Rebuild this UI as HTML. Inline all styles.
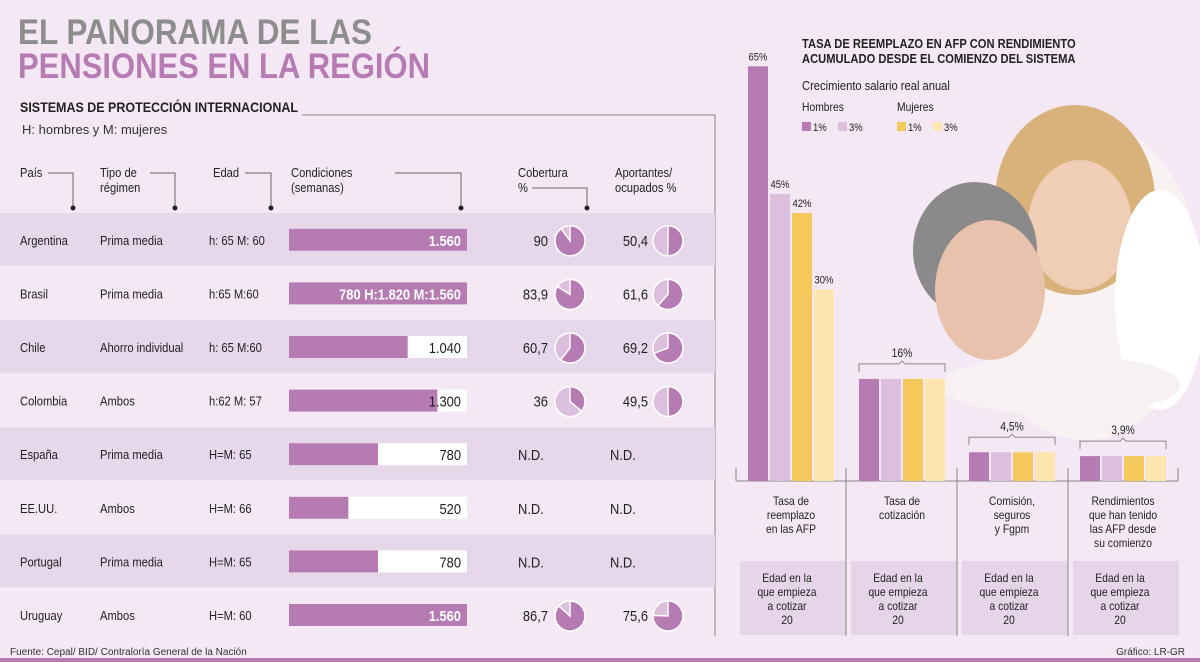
<!DOCTYPE html>
<html><head><meta charset="utf-8">
<style>
html,body{margin:0;padding:0;background:#f3e8f4;}
svg{display:block;font-family:"Liberation Sans Narrow","Liberation Sans",sans-serif;}
</style></head>
<body>
<svg id="s" width="1200" height="662" viewBox="0 0 1200 662" xmlns="http://www.w3.org/2000/svg">
<rect x="0" y="0" width="1200" height="662" fill="#f3e8f4"/>
<text x="18" y="44" font-size="35" font-weight="bold" fill="#8d8d8d" textLength="354" lengthAdjust="spacingAndGlyphs">EL PANORAMA DE LAS</text>
<text x="18" y="78" font-size="35" font-weight="bold" fill="#b77bb4" textLength="412" lengthAdjust="spacingAndGlyphs">PENSIONES EN LA REGIÓN</text>
<text x="20" y="112" font-size="14" font-weight="bold" fill="#222" textLength="278" lengthAdjust="spacingAndGlyphs">SISTEMAS DE PROTECCIÓN INTERNACIONAL</text>
<polyline points="302,115 715,115 715,636" fill="none" stroke="#888" stroke-width="1"/>
<text x="22" y="134" font-size="13" fill="#333">H: hombres y M: mujeres</text>
<g id="hdr" font-size="13" fill="#222"></g>
<g id="rows"></g>
<g id="photo">
<ellipse cx="1085" cy="280" rx="115" ry="160" fill="#f8f3f2"/>
<ellipse cx="1075" cy="200" rx="80" ry="95" fill="#d8b27a"/>
<ellipse cx="1080" cy="225" rx="52" ry="65" fill="#f0cdb5"/>
<ellipse cx="975" cy="250" rx="62" ry="68" fill="#8a8a8a"/>
<ellipse cx="990" cy="290" rx="55" ry="70" fill="#e9c2ad"/>
<ellipse cx="1160" cy="300" rx="45" ry="110" fill="#ffffff"/>
<ellipse cx="1060" cy="385" rx="120" ry="30" fill="#f7f1f4"/>
</g>
<g id="chart"></g>
<text x="10" y="655" font-size="10" fill="#333">Fuente: Cepal/ BID/ Contraloría General de la Nación</text>
<text x="1185" y="655" font-size="10" fill="#333" text-anchor="end">Gráfico: LR-GR</text>
<rect x="0" y="658" width="1200" height="4" fill="#b77bb4"/>
</svg>
<script>
const countries=["Argentina","Brasil","Chile","Colombia","España","EE.UU.","Portugal","Uruguay"];
const regimes=["Prima media","Prima media","Ahorro individual","Ambos","Prima media","Ambos","Prima media","Ambos"];
const ages=["h: 65 M: 60","h:65 M:60","h: 65 M:60","h:62 M: 57","H=M: 65","H=M: 66","H=M: 65","H=M: 60"];
const weeks=[1560,1560,1040,1300,780,520,780,1560];
const weekLabels=["1.560","780 H:1.820 M:1.560","1.040","1.300","780","520","780","1.560"];
const coverage=[90,83.9,60.7,36,null,null,null,86.7];
const coverageLabels=["90","83,9","60,7","36","N.D.","N.D.","N.D.","86,7"];
const contrib=[50.4,61.6,69.2,49.5,null,null,null,75.6];
const contribLabels=["50,4","61,6","69,2","49,5","N.D.","N.D.","N.D.","75,6"];

const groups=["Tasa de|reemplazo|en las AFP","Tasa de|cotización","Comisión,|seguros|y Fgpm","Rendimientos|que han tenido|las AFP desde|su comienzo"];
const seriesNames=["Hombres 1%","Hombres 3%","Mujeres 1%","Mujeres 3%"];
const hombres1=[65,16,4.5,3.9];
const hombres3=[45,16,4.5,3.9];
const mujeres1=[42,16,4.5,3.9];
const mujeres3=[30,16,4.5,3.9];
const groupLabels=["","16%","4,5%","3,9%"];

const NS="http://www.w3.org/2000/svg";
function mk(tag,attrs,parent,txt){const e=document.createElementNS(NS,tag);for(const k in attrs)e.setAttribute(k,attrs[k]);if(txt!=null)e.textContent=txt;parent.appendChild(e);return e;}
const hdr=document.getElementById('hdr');
const rows=document.getElementById('rows');
const chart=document.getElementById('chart');

const heads=[["País",20,177],["Tipo de|régimen",100,177],["Edad",213,177],["Condiciones|(semanas)",291,177],["Cobertura|%",518,177],["Aportantes/|ocupados %",615,177]];
heads.forEach(h=>{
  const t=mk('text',{x:h[1],y:h[2],'font-size':13,fill:'#222'},hdr);
  
  
  h[0].split('|').forEach((p,i)=>mk('tspan',{x:h[1],dy:i?15:0},t,p));
});
const leaders=[[48,173,73],[150,173,175],[245,173,271],[395,173,461],[532,188,587]];
leaders.forEach(l=>{
  const pl=mk('polyline',{points:`${l[0]},${l[1]} ${l[2]},${l[1]} ${l[2]},207`,fill:'none',stroke:'#666','stroke-width':1},hdr);
  
  
  const c=mk('circle',{cx:l[2],cy:208,r:2.5,fill:'#222'},hdr);
  
  
});

const rowTop=213,rowH=53.6,barX=289,barW=178,barH=22;
function xW(v){return v/1560*barW;}
function pie(cx,cy,r,pct,g){
  const bg=mk('circle',{cx,cy,r,fill:'#dcbedd',stroke:'#fff','stroke-width':1.5},g);
  
  
  const a=pct/100*2*Math.PI;
  const x1=cx+r*Math.sin(a),y1=cy-r*Math.cos(a);
  const large=pct>50?1:0;
  const p=mk('path',{d:`M${cx},${cy} L${cx},${cy-r} A${r},${r} 0 ${large} 1 ${x1},${y1} Z`,fill:'#b77bb4',stroke:'#fff','stroke-width':1.5},g);
  
  
}
countries.forEach((c,i)=>{
  const y=rowTop+i*rowH, cy=y+rowH/2;
  const g=mk('g',{},rows);
  
  
  if(i%2===0){const b=mk('rect',{x:0,y:y,width:715,height:rowH-1,fill:'#e7d7ea'},g);
    }
  const t1=mk('text',{x:20,y:cy+5,'font-size':13,fill:'#222'},g,c);
  
  const t2=mk('text',{x:100,y:cy+5,'font-size':13,fill:'#222'},g,regimes[i]);
  
  const t3=mk('text',{x:209,y:cy+5,'font-size':13,fill:'#222'},g,ages[i]);
  
  const tr=mk('rect',{x:barX,y:cy-barH/2,width:barW,height:barH,fill:'#fff'},g);
  
  const w=i===1?barW:xW(weeks[i]);
  const br=mk('rect',{x:barX,y:cy-barH/2,width:w,height:barH,fill:'#b77bb4'},g);
  
  const full=w>barW-5;
  const bl=mk('text',{x:barX+barW-6,y:cy+6,'font-size':15,'font-weight':full?'bold':'normal','text-anchor':'end',fill:full?'#fff':'#222'},g,weekLabels[i]);
  
  const cv=mk('text',{x:coverage[i]==null?518:548,y:cy+6,'font-size':15,'text-anchor':coverage[i]==null?'start':'end',fill:'#222'},g,coverageLabels[i]);
  
  const ap=mk('text',{x:contrib[i]==null?610:648,y:cy+6,'font-size':15,'text-anchor':contrib[i]==null?'start':'end',fill:'#222'},g,contribLabels[i]);
  
  if(coverage[i]!=null)pie(570,cy+1,15,coverage[i],g);
  if(contrib[i]!=null)pie(668,cy+1,15,contrib[i],g);
});

const baseY=481,pxPer=6.38;
function yS(v){return baseY-v*pxPer;}
const colors=["#b77bb4","#dcbedd","#f4c85a","#fde5ae"];
const series=[hombres1,hombres3,mujeres1,mujeres3];
const gx=[748,859,969,1080],bw=20,bg=2;
const ct=mk('text',{x:802,y:48,'font-size':13,'font-weight':'bold',fill:'#222'},chart);

mk('tspan',{x:802,dy:0},ct,"TASA DE REEMPLAZO EN AFP CON RENDIMIENTO");
mk('tspan',{x:802,dy:15},ct,"ACUMULADO DESDE EL COMIENZO DEL SISTEMA");
const cs=mk('text',{x:802,y:90,'font-size':13,fill:'#222'},chart,"Crecimiento salario real anual");

const lh=mk('text',{x:802,y:111,'font-size':12,fill:'#222'},chart,"Hombres");

const lm=mk('text',{x:897,y:111,'font-size':12,fill:'#222'},chart,"Mujeres");

[[802,"1%"],[838,"3%"],[897,"1%"],[933,"3%"]].forEach((l,k)=>{
  const r=mk('rect',{x:l[0],y:122,width:9,height:9,fill:colors[k]},chart);
  
  const t=mk('text',{x:l[0]+11,y:131,'font-size':11,fill:'#222'},chart,l[1]);
  
});
gx.forEach((x,gi)=>{
  const bx=mk('rect',{x:740+gi*111,y:561,width:106,height:74,fill:'#e6d5e9'},chart);
  
  const t=mk('text',{x:787+gi*111,y:582,'font-size':12,fill:'#222','text-anchor':'middle'},chart);
  
  ["Edad en la","que empieza","a cotizar","20"].forEach((p,k)=>mk('tspan',{x:787+gi*111,dy:k?14:0},t,p));
  const gl=mk('text',{x:x+43,y:505,'font-size':12,fill:'#222','text-anchor':'middle'},chart);
  
  groups[gi].split('|').forEach((p,k)=>mk('tspan',{x:x+43,dy:k?14:0},gl,p));
});
[736,846,957,1068].forEach((x,k)=>{
  const l=mk('line',{x1:x,y1:468,x2:x,y2:k?636:481,stroke:'#888','stroke-width':1},chart);
  
});
const rt=mk('line',{x1:1178,y1:468,x2:1178,y2:481,stroke:'#888'},chart);

const bl=mk('line',{x1:736,y1:baseY,x2:1178,y2:baseY,stroke:'#888','stroke-width':1},chart);

gx.forEach((x,gi)=>{
  series.forEach((s,si)=>{
    const bx=x+si*(bw+bg);
    const r=mk('rect',{x:bx,y:yS(s[gi]),width:bw,height:baseY-yS(s[gi]),fill:colors[si]},chart);
    
    
    if(gi===0){
      const t=mk('text',{x:bx+bw/2,y:yS(s[gi])-6,'font-size':11,fill:'#222','text-anchor':'middle'},chart,s[gi]+'%');
      
    }
  });
  if(gi>0){
    const top=yS(Math.max(hombres1[gi],hombres3[gi],mujeres1[gi],mujeres3[gi]));
    const y=top-15,x2=x+86,mx=x+43;
    const br=mk('polyline',{points:`${x},${y+8} ${x},${y} ${mx-3},${y} ${mx},${y-3} ${mx+3},${y} ${x2},${y} ${x2},${y+8}`,fill:'none',stroke:'#888'},chart);
    
    const t=mk('text',{x:mx,y:y-7,'font-size':12,fill:'#222','text-anchor':'middle'},chart,groupLabels[gi]);
    
  }
});
// condense text to mimic the narrow typeface
document.querySelectorAll('#hdr text tspan, #rows text, #chart text tspan, #chart text:not(:has(tspan))').forEach(el=>{
  try{const L=el.getComputedTextLength();if(L>0){el.setAttribute('textLength',(L*0.86).toFixed(1));el.setAttribute('lengthAdjust','spacingAndGlyphs');}}catch(e){}
});
</script>
</body></html>
